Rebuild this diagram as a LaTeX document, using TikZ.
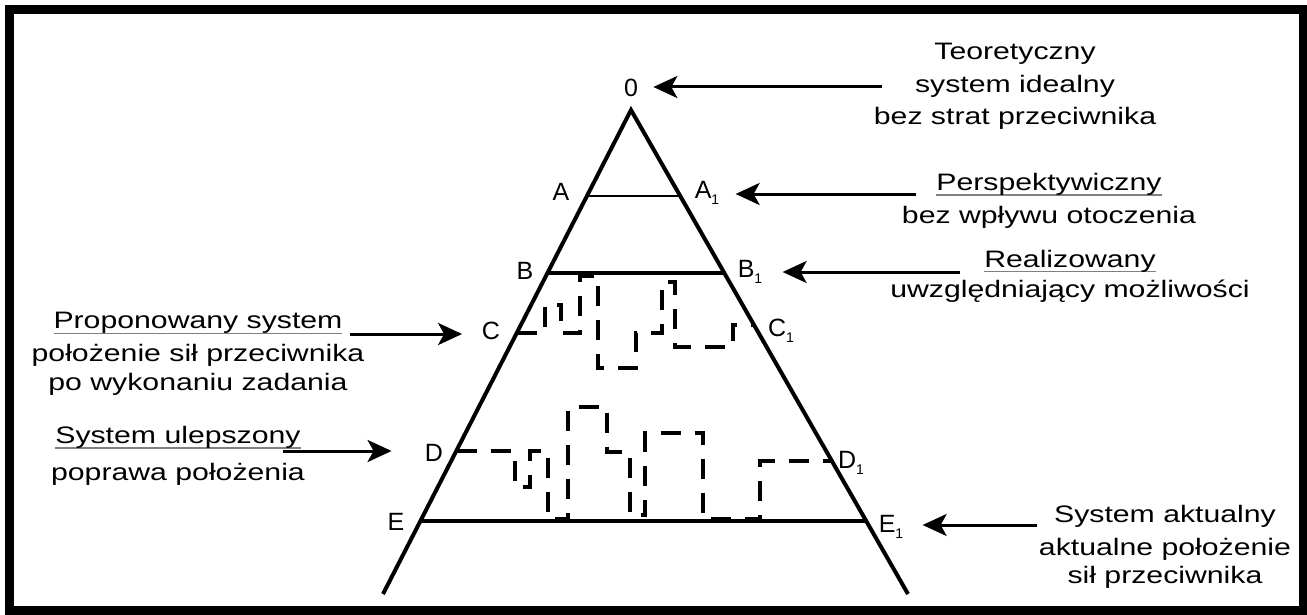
\documentclass[tikz,border=0pt]{standalone}
\usepackage{fontspec}
\setmainfont{Liberation Sans}
\newfontfamily\descfont[FakeStretch=1.27]{Liberation Sans}
\usetikzlibrary{arrows.meta}
\newcommand{\lowsub}[1]{\raisebox{-0.45ex}{\fontsize{7}{7}\selectfont #1}}
\newsavebox{\ulbox}
\newcommand{\grayul}[1]{\sbox{\ulbox}{#1}\rlap{\textcolor{gray}{\rule[-2.5pt]{\wd\ulbox}{0.6pt}}}\usebox{\ulbox}}

\begin{document}
\begin{tikzpicture}[x=0.5pt, y=-0.5pt,
    leg/.style={line width=2pt},
    dashstep/.style={line width=1.6pt, dash pattern=on 10pt off 7pt},
    arrow/.style={-{Stealth[length=12pt, width=11pt, inset=3pt]}, line width=1.5pt},
    letter/.style={inner sep=0pt, font=\fontsize{12.5}{14}\selectfont},
    desc/.style={inner sep=0pt, align=center, font=\descfont\fontsize{11.9}{14}\selectfont}
]
\useasboundingbox (0,0) rectangle (1307,615);

% Frame
\draw[line width=4.5pt] (9,10) rectangle (1303,610);

% Pyramid
\coordinate (top) at (631,110);
\coordinate (bl) at (383,594);
\coordinate (br) at (908,594);
\draw[leg] (bl) -- (top) -- (br);

% Levels
\draw[line width=1pt] (587,196) -- (680,196);
\draw[line width=2.3pt] (547.5,273) -- (724.5,273);
\draw[line width=2.3pt] (420.5,521) -- (866.5,521);

% Step lines
\draw[dashstep] (517,333) -- (545,333) -- (545,305) -- (561,305) -- (561,333) -- (580,333)
    -- (580,276) -- (598,276) -- (598,368) -- (636,368) -- (636,333) -- (662,333)
    -- (662,282) -- (675,282) -- (675,347) -- (733,347) -- (733,325) -- (754,325);
\draw[dashstep] (456.5,451) -- (515,451) -- (515,487) -- (530,487) -- (530,451) -- (548,451)
    -- (548,519) -- (568,519) -- (568,407) -- (607,407) -- (607,452) -- (630,452)
    -- (630,515) -- (645,515) -- (645,433) -- (703,433) -- (703,519) -- (760,519)
    -- (760,461) -- (832,461);

% Point labels
\node[letter] (n0) at (631,88) {0};
\node[letter] (a) at (561,192) {A};
\node[letter] (a1) at (707,193) {A\lowsub{1}};
\node[letter] (b) at (525,271) {B};
\node[letter] (b1) at (750,272) {B\lowsub{1}};
\node[letter] (c) at (491,331) {C};
\node[letter] (c1) at (781,331) {C\lowsub{1}};
\node[letter] (d) at (434,453) {D};
\node[letter] (d1) at (851,463) {D\lowsub{1}};
\node[letter] (e) at (396,522) {E};
\node[letter] (e1) at (891,527) {E\lowsub{1}};

% Descriptions
\node[desc] (teo) at (1015,86) {Teoretyczny\\[2.5pt]system idealny\\[2pt]bez strat przeciwnika};
\node[desc] (persp) at (1049,201) {\grayul{Perspektywiczny}\\[2.5pt]bez wpływu otoczenia};
\node[desc] (real) at (1070,276) {\grayul{Realizowany}\\[1pt]uwzględniający możliwości};
\node[desc] (prop) at (198,354) {\grayul{Proponowany system}\\[2.5pt]położenie sił przeciwnika\\[0.5pt]po wykonaniu zadania};
\node[desc] (ulep) at (178,456) {\grayul{System ulepszony}\\[4.5pt]poprawa położenia};
\node[desc] (akt) at (1165,547) {System aktualny\\[2.5pt]aktualne położenie\\sił przeciwnika};

% Arrows
\coordinate (teoend) at (882,87);
\coordinate (perspend) at (916,194);
\coordinate (realend) at (960,272);
\coordinate (propend) at (350,334);
\coordinate (ulepend) at (283,451);
\coordinate (aktend) at (1037,525);
\draw[arrow, shorten >=7.5pt] (teoend) -- (n0.east |- teoend);
\draw[arrow, shorten >=8pt] (perspend) -- (a1.east |- perspend);
\draw[arrow, shorten >=10pt] (realend) -- (b1.east |- realend);
\draw[arrow, shorten >=9.75pt] (propend) -- (c.west |- propend);
\draw[arrow, shorten >=16.5pt] (ulepend) -- (d.west |- ulepend);
\draw[arrow, shorten >=9.5pt] (aktend) -- (e1.east |- aktend);

\end{tikzpicture}
\end{document}
